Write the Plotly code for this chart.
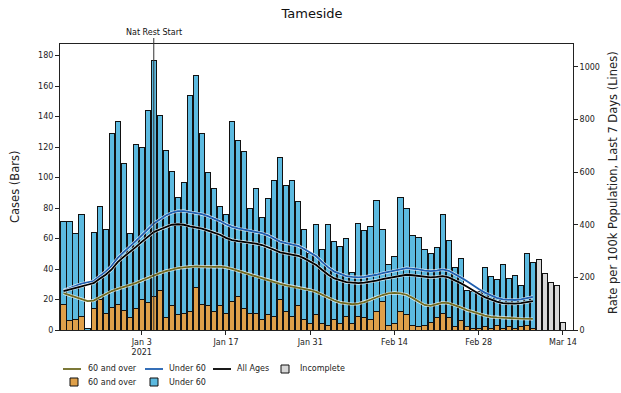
import pandas as pd
import plotly.graph_objects as go

# ---------------- data ----------------
start_date = "2020-12-21"
over60_cases = [17, 6, 7, 9, 0, 14, 20, 11, 15, 17, 13, 8, 14, 20, 18, 22, 26, 8, 16, 10,
                11, 12, 28, 17, 16, 12, 16, 11, 19, 22, 14, 11, 11, 7, 10, 9, 20, 12, 9, 16,
                7, 4, 10, 4, 3, 7, 4, 9, 4, 9, 8, 7, 12, 19, 3, 4, 12, 10, 3, 2,
                3, 5, 8, 11, 8, 2, 6, 2, 1, 1, 2, 1, 3, 1, 2, 1, 2, 3, 1]
under60_cases = [54, 65, 56, 67, 1, 50, 61, 55, 114, 120, 96, 55, 108, 100, 126, 155, 115, 110, 88, 77,
                 86, 142, 139, 112, 87, 81, 65, 65, 118, 102, 103, 69, 82, 67, 76, 89, 93, 83, 89, 68,
                 59, 46, 59, 49, 66, 51, 51, 51, 34, 61, 57, 61, 73, 47, 40, 44, 75, 70, 59, 59,
                 50, 45, 46, 65, 51, 39, 41, 24, 24, 24, 39, 34, 30, 42, 32, 35, 27, 47, 43]
incomplete_start = "2021-03-10"
incomplete_cases = [46, 37, 31, 29, 5]

rate_all = [148, 155, 160, 166, 172, 178, 195, 210, 230, 258, 278, 295, 315, 335, 355, 372, 382, 392, 400, 402,
            400, 394, 390, 385, 378, 370, 362, 350, 342, 338, 335, 332, 328, 323, 315, 305, 295, 290, 287, 282,
            272, 260, 247, 228, 210, 196, 188, 182, 180, 178, 180, 183, 188, 193, 197, 201, 206, 210, 208, 205,
            202, 200, 202, 205, 200, 190, 178, 165, 150, 138, 125, 115, 108, 102, 100, 100, 102, 105, 110]
rate_under60 = [150, 160, 168, 176, 180, 186, 204, 222, 244, 274, 296, 316, 338, 360, 384, 405, 420, 435, 446, 452,
                452, 448, 445, 440, 433, 424, 414, 402, 392, 386, 382, 378, 373, 368, 360, 348, 336, 330, 326, 320,
                308, 294, 280, 258, 238, 222, 212, 205, 202, 200, 202, 205, 210, 216, 220, 225, 230, 235, 233, 230,
                226, 224, 226, 230, 225, 214, 200, 186, 170, 156, 142, 131, 122, 116, 114, 114, 116, 120, 126]
rate_over60 = [140, 132, 124, 116, 110, 112, 124, 138, 148, 156, 163, 170, 178, 188, 198, 208, 216, 224, 230, 235,
               238, 240, 242, 241, 240, 240, 241, 238, 232, 225, 218, 210, 202, 195, 188, 181, 175, 170, 166, 162,
               158, 152, 145, 134, 122, 112, 104, 100, 98, 100, 106, 115, 125, 133, 139, 141, 139, 134, 122, 108,
               95, 92, 97, 104, 102, 95, 86, 76, 68, 62, 55, 50, 48, 46, 45, 44, 43, 42, 42]

tick_dates = ["2021-01-03", "2021-01-17", "2021-01-31", "2021-02-14", "2021-02-28", "2021-03-14"]
tick_labels = ["Jan 3<br>2021", "Jan 17", "Jan 31", "Feb 14", "Feb 28", "Mar 14"]
event_date = "2021-01-05"
event_label = "Nat Rest Start"

dates = pd.date_range(start_date, periods=len(over60_cases))
inc_dates = pd.date_range(incomplete_start, periods=len(incomplete_cases))

# ---------------- style ----------------
W, H = 621, 393
L, R, T, B = 60, 573, 44, 330
FONT = "DejaVu Sans"
C_OVER_BAR = "#DFA04A"
C_UNDER_BAR = "#5CBAE0"
C_INC = "#D8D8D8"
C_OVER_LINE = "#6E6A22"
C_UNDER_LINE = "#1F5FB0"
C_ALL_LINE = "#000000"
BAR_W = 0.86 * 86400000


def px_x(px):
    return (px - L) / (R - L)


def px_y(py):
    return (B - py) / (B - T)


fig = go.Figure()
edge = dict(color="#111111", width=1)
fig.add_bar(x=dates, y=over60_cases, width=BAR_W, marker=dict(color=C_OVER_BAR, line=edge),
            name="60 and over", showlegend=False)
fig.add_bar(x=dates, y=under60_cases, width=BAR_W, marker=dict(color=C_UNDER_BAR, line=edge),
            name="Under 60", showlegend=False)
fig.add_bar(x=inc_dates, y=incomplete_cases, width=BAR_W, marker=dict(color=C_INC, line=edge),
            name="Incomplete", showlegend=False)

for series, col in [(rate_over60, C_OVER_LINE), (rate_under60, C_UNDER_LINE), (rate_all, C_ALL_LINE)]:
    fig.add_scatter(x=dates, y=series, mode="lines", yaxis="y2", showlegend=False,
                    line=dict(color="rgba(255,255,255,0.8)", width=3.1), hoverinfo="skip")
    fig.add_scatter(x=dates, y=series, mode="lines", yaxis="y2", showlegend=False,
                    line=dict(color=col, width=1.8))

x0 = pd.Timestamp(start_date) - pd.Timedelta(hours=14)
x1 = pd.Timestamp("2021-03-14") + pd.Timedelta(hours=40)

axis_common = dict(showgrid=False, zeroline=False, showline=True, linecolor="#222222", linewidth=1,
                   ticks="outside", ticklen=4, tickcolor="#222222",
                   tickfont=dict(family=FONT, size=8, color="#222222"))

fig.update_layout(
    width=W, height=H,
    margin=dict(l=L, r=W - R, t=T, b=H - B, autoexpand=False),
    paper_bgcolor="white", plot_bgcolor="white",
    barmode="stack",
    font=dict(family=FONT, color="#222222"),
    title=dict(text="Tameside", x=312 / W, xanchor="center",
               y=1 - 13 / H, yanchor="middle", font=dict(family=FONT, size=13, color="#111111")),
    xaxis=dict(type="date", range=[x0, x1], tickvals=tick_dates, ticktext=tick_labels,
               mirror=True, **axis_common),
    yaxis=dict(range=[0, 187.6], tickvals=list(range(0, 181, 20)), **axis_common),
    yaxis2=dict(range=[0, 1087], tickvals=list(range(0, 1001, 200)), overlaying="y", side="right",
                **axis_common),
)

anns = []
shapes = []
# event line
shapes.append(dict(type="line", xref="x", yref="paper", x0=event_date, x1=event_date,
                   y0=0, y1=px_y(38), line=dict(color="#333333", width=1)))
anns.append(dict(text=event_label, xref="x", yref="paper", x=event_date, y=px_y(32),
                 showarrow=False, xanchor="center", yanchor="middle",
                 font=dict(family=FONT, size=8, color="#111111")))
# axis titles
anns.append(dict(text="Cases (Bars)", xref="paper", yref="paper", x=px_x(15), y=px_y(187),
                 textangle=-90, showarrow=False, xanchor="center", yanchor="middle",
                 font=dict(family=FONT, size=11.5, color="#222222")))
anns.append(dict(text="Rate per 100k Population, Last 7 Days (Lines)", xref="paper", yref="paper",
                 x=px_x(613), y=px_y(183), textangle=-90, showarrow=False, xanchor="center",
                 yanchor="middle", font=dict(family=FONT, size=11.5, color="#222222")))

# manual legend
legend_font = dict(family=FONT, size=8, color="#222222")
row1, row2 = 369, 382
for (hx0, hx1, tx, col, label) in [(63, 81, 86, C_OVER_LINE, "60 and over"),
                                    (145, 163, 167, C_UNDER_LINE, "Under 60"),
                                    (213, 231, 235, C_ALL_LINE, "All Ages")]:
    shapes.append(dict(type="line", xref="paper", yref="paper", x0=px_x(hx0), x1=px_x(hx1),
                       y0=px_y(row1), y1=px_y(row1), line=dict(color=col, width=1.8)))
    anns.append(dict(text=label, xref="paper", yref="paper", x=px_x(tx), y=px_y(row1),
                     showarrow=False, xanchor="left", yanchor="middle", font=legend_font))
for (cx, cy, tx, col, label) in [(285, row1, 298, C_INC, "Incomplete"),
                                 (74, row2, 86, C_OVER_BAR, "60 and over"),
                                 (154, row2, 167, C_UNDER_BAR, "Under 60")]:
    shapes.append(dict(type="rect", xref="paper", yref="paper", x0=px_x(cx - 4), x1=px_x(cx + 4),
                       y0=px_y(cy + 4), y1=px_y(cy - 4), fillcolor=col,
                       line=dict(color="#111111", width=1)))
    anns.append(dict(text=label, xref="paper", yref="paper", x=px_x(tx), y=px_y(cy),
                     showarrow=False, xanchor="left", yanchor="middle", font=legend_font))

fig.update_layout(annotations=anns, shapes=shapes)
fig.write_html("out.html", config={"displayModeBar": False},
               post_script="document.body.style.margin='0px';document.body.style.padding='0px';")
